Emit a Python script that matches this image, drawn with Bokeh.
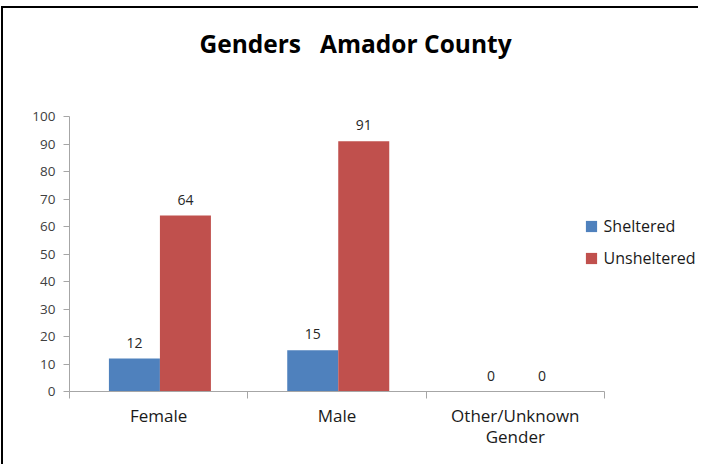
from bokeh.plotting import figure
from bokeh.models import (Range1d, LinearAxis, FixedTicker, Label,
                          Legend, LegendItem, ColumnDataSource)
from bokeh.transform import dodge
from bokeh.core.properties import value
from bokeh.embed import file_html
from bokeh.resources import INLINE

# ---- data ----
categories = ["Female", "Male", "Other/Unknown Gender"]
category_labels = ["Female", "Male", "Other/Unknown\nGender"]
sheltered = [12, 15, 0]
unsheltered = [64, 91, 0]
series_names = ["Sheltered", "Unsheltered"]
y_ticks = [0, 10, 20, 30, 40, 50, 60, 70, 80, 90, 100]
title_text = "Genders \u00a0 Amador County"

# ---- layout (window coordinates) ----
W, H = 702, 458
ox, oy = 3, 8            # canvas origin in window (after css border)
ax_left, ax_right, ax_top, ax_bottom = 69, 604, 116, 391
n = len(categories)
ymax = max(y_ticks)
px_y = (ax_bottom - ax_top) / ymax
px_x = (ax_right - ax_left) / n

FONT = "Open Sans"
BLUE = "#4F81BD"
RED = "#C0504D"
AXIS = "#a6a6a6"

source = ColumnDataSource(dict(
    cat=categories,
    xc=[i + 0.5 for i in range(n)],
    sheltered=sheltered,
    unsheltered=unsheltered,
    s_txt=[str(v) for v in sheltered],
    u_txt=[str(v) for v in unsheltered],
))

x_end = n + (ox + W - ax_right) / px_x
y_end = ymax + (ax_top - oy) / px_y

p = figure(width=W, height=H,
           x_range=Range1d(0, x_end), y_range=Range1d(0, y_end),
           output_backend="svg", toolbar_location=None,
           x_axis_location=None, y_axis_location=None,
           min_border_left=ax_left - ox, min_border_right=0,
           min_border_top=0, min_border_bottom=oy + H - ax_bottom)
p.styles = {"margin-left": "1px", "margin-top": "6px",
            "border-left": "2px solid #000000", "border-top": "2px solid #000000",
            "clip-path": "inset(0px 5px 0px 0px)"}
p.outline_line_color = None
p.outline_line_alpha = 0
p.xgrid.visible = False
p.ygrid.visible = False
p.background_fill_color = "white"
p.border_fill_color = "white"

bw = 0.286
r1 = p.vbar(x=dodge("xc", -0.136), top="sheltered", width=bw,
            source=source, fill_color=BLUE, line_color=None)
r2 = p.vbar(x=dodge("xc", 0.150), top="unsheltered", width=bw,
            source=source, fill_color=RED, line_color=None)

for col, ycol, off in (("s_txt", "sheltered", -0.136), ("u_txt", "unsheltered", 0.150)):
    p.text(x=dodge("xc", off), y=ycol, text=col, source=source,
           text_align="center", text_baseline="alphabetic", y_offset=-16,
           text_font=value(FONT), text_font_size="14px", text_color="#262626")

# y axis
yaxis = LinearAxis(ticker=FixedTicker(ticks=y_ticks), bounds=(0, ymax))
yaxis.axis_line_color = AXIS
yaxis.major_tick_line_color = AXIS
yaxis.major_tick_out = 6
yaxis.major_tick_in = 0
yaxis.minor_tick_line_color = None
yaxis.major_label_standoff = 8
yaxis.major_label_text_font = FONT
yaxis.major_label_text_font_size = "13.5px"
yaxis.major_label_text_color = "#404040"
p.add_layout(yaxis, "left")

# x axis: labels at category centres, tick marks at category boundaries
centres = [i + 0.5 for i in range(n)]
xaxis = LinearAxis(ticker=FixedTicker(ticks=centres, minor_ticks=list(range(n + 1))),
                   bounds=(0, n))
xaxis.major_label_overrides = {c: lab for c, lab in zip(centres, category_labels)}
xaxis.axis_line_color = AXIS
xaxis.major_tick_line_color = None
xaxis.major_tick_out = 0
xaxis.major_tick_in = 0
xaxis.minor_tick_line_color = AXIS
xaxis.minor_tick_out = 7
xaxis.minor_tick_in = 0
xaxis.major_label_standoff = 5
xaxis.major_label_text_font = FONT
xaxis.major_label_text_font_size = "17px"
xaxis.major_label_text_color = "#1a1a1a"
xaxis.major_label_text_line_height = 0.95
p.add_layout(xaxis, "below")

# title
p.add_layout(Label(x=(355 - ax_left) / px_x,
                   y=ymax + (ax_top - 43) / px_y,
                   text=title_text, text_align="center", text_baseline="alphabetic",
                   text_font=FONT, text_font_size="24.5px", text_font_style="bold",
                   text_color="#000000"))

# legend
legend = Legend(items=[LegendItem(label=series_names[0], renderers=[r1]),
                       LegendItem(label=series_names[1], renderers=[r2])],
                location=(583.6 - ax_left, ax_bottom - 269),
                padding=0, margin=0, spacing=10,
                glyph_width=14, glyph_height=14, label_height=20, label_standoff=6,
                border_line_color=None, background_fill_alpha=0,
                label_text_font=FONT, label_text_font_size="16px",
                label_text_color="#1a1a1a")
p.add_layout(legend, "center")

open("out.html", "w").write(file_html(p, INLINE))
